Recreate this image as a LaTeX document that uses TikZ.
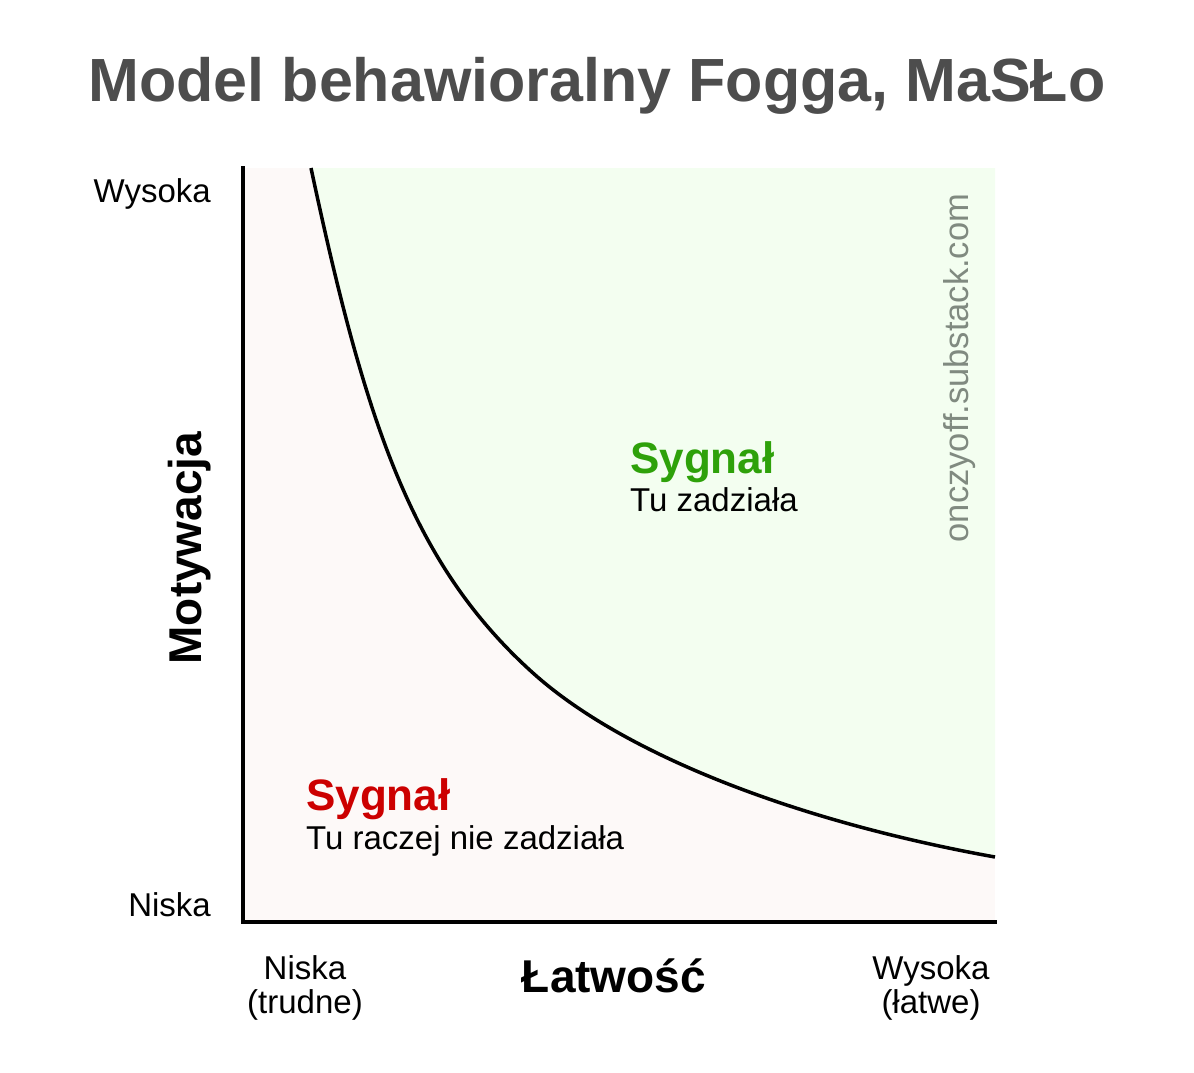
\documentclass[tikz,border=0pt]{standalone}
\usepackage{fontspec}
\setmainfont{Liberation Sans}
\definecolor{titlegray}{HTML}{4D4D4D}
\definecolor{signalgreen}{HTML}{2EA10A}
\definecolor{signalred}{HTML}{CC0000}
\definecolor{lowzone}{HTML}{FDF9F8}
\definecolor{highzone}{HTML}{F3FEF0}
\definecolor{markgray}{HTML}{808A80}
\begin{document}
\begin{tikzpicture}[x=1pt,y=-1pt]
    \tikzset{axisline/.style={line width=3.5pt, line cap=rect}, body/.style={inner sep=0pt, font=\fontsize{33}{38}\selectfont}, heading/.style={inner sep=0pt, font=\fontsize{44}{50}\selectfont\bfseries}}
    \useasboundingbox (0,0) rectangle (1194,1072);

    \coordinate (top) at (243,168);
    \coordinate (origin) at (243,922);
    \coordinate (right) at (995,922);
    \coordinate (topright) at (995,168);
    \coordinate (c_start) at (311,168);
    \coordinate (c_mid) at (533,673);
    \coordinate (c_end) at (995,857);

    % zones
    \fill[lowzone] (top) rectangle (right);
    \fill[highzone] (c_start) .. controls (366,426) and (413,565) .. (c_mid) .. controls (623,754) and (795,821) .. (c_end) -- (topright) -- cycle;

    \draw[axisline] (top) -- (origin) -- (right);
    \draw[line width=3.5pt] (c_start) .. controls (366,426) and (413,565) .. (c_mid) .. controls (623,754) and (795,821) .. (c_end);

    \node[inner sep=0pt, text=titlegray, font=\fontsize{61}{70}\selectfont\bfseries] (title) at (597,86) {Model behawioralny Fogga, MaSŁo};

    \node[body, anchor=base east] (m_high) at (211,202) {Wysoka};
    \node[body, anchor=base east] (m_low) at (211,916) {Niska};
    \node[heading, rotate=90, font=\fontsize{46}{50}\selectfont\bfseries] (m_axis) at (190,548) {Motywacja};

    \node[body, anchor=base] (e_low) at (305,979) {Niska};
    \node[body, anchor=base] (e_low2) at (305,1013) {(trudne)};
    \node[body, anchor=base] (e_high) at (931,979) {Wysoka};
    \node[body, anchor=base] (e_high2) at (931,1013) {(łatwe)};
    \node[heading, anchor=base, font=\fontsize{46}{50}\selectfont\bfseries] (e_axis) at (614,992) {Łatwość};

    \node[heading, anchor=base west, text=signalgreen] (s_high) at (630,473) {Sygnał};
    \node[body, anchor=base west] (t_high) at (630,511) {Tu zadziała};
    \node[heading, anchor=base west, text=signalred] (s_low) at (306,810) {Sygnał};
    \node[body, anchor=base west] (t_low) at (306,849) {Tu raczej nie zadziała};

    \node[inner sep=0pt, rotate=90, text=markgray, font=\fontsize{34.5}{38}\selectfont] (mark) at (960,368) {onczyoff.substack.com};
\end{tikzpicture}
\end{document}
